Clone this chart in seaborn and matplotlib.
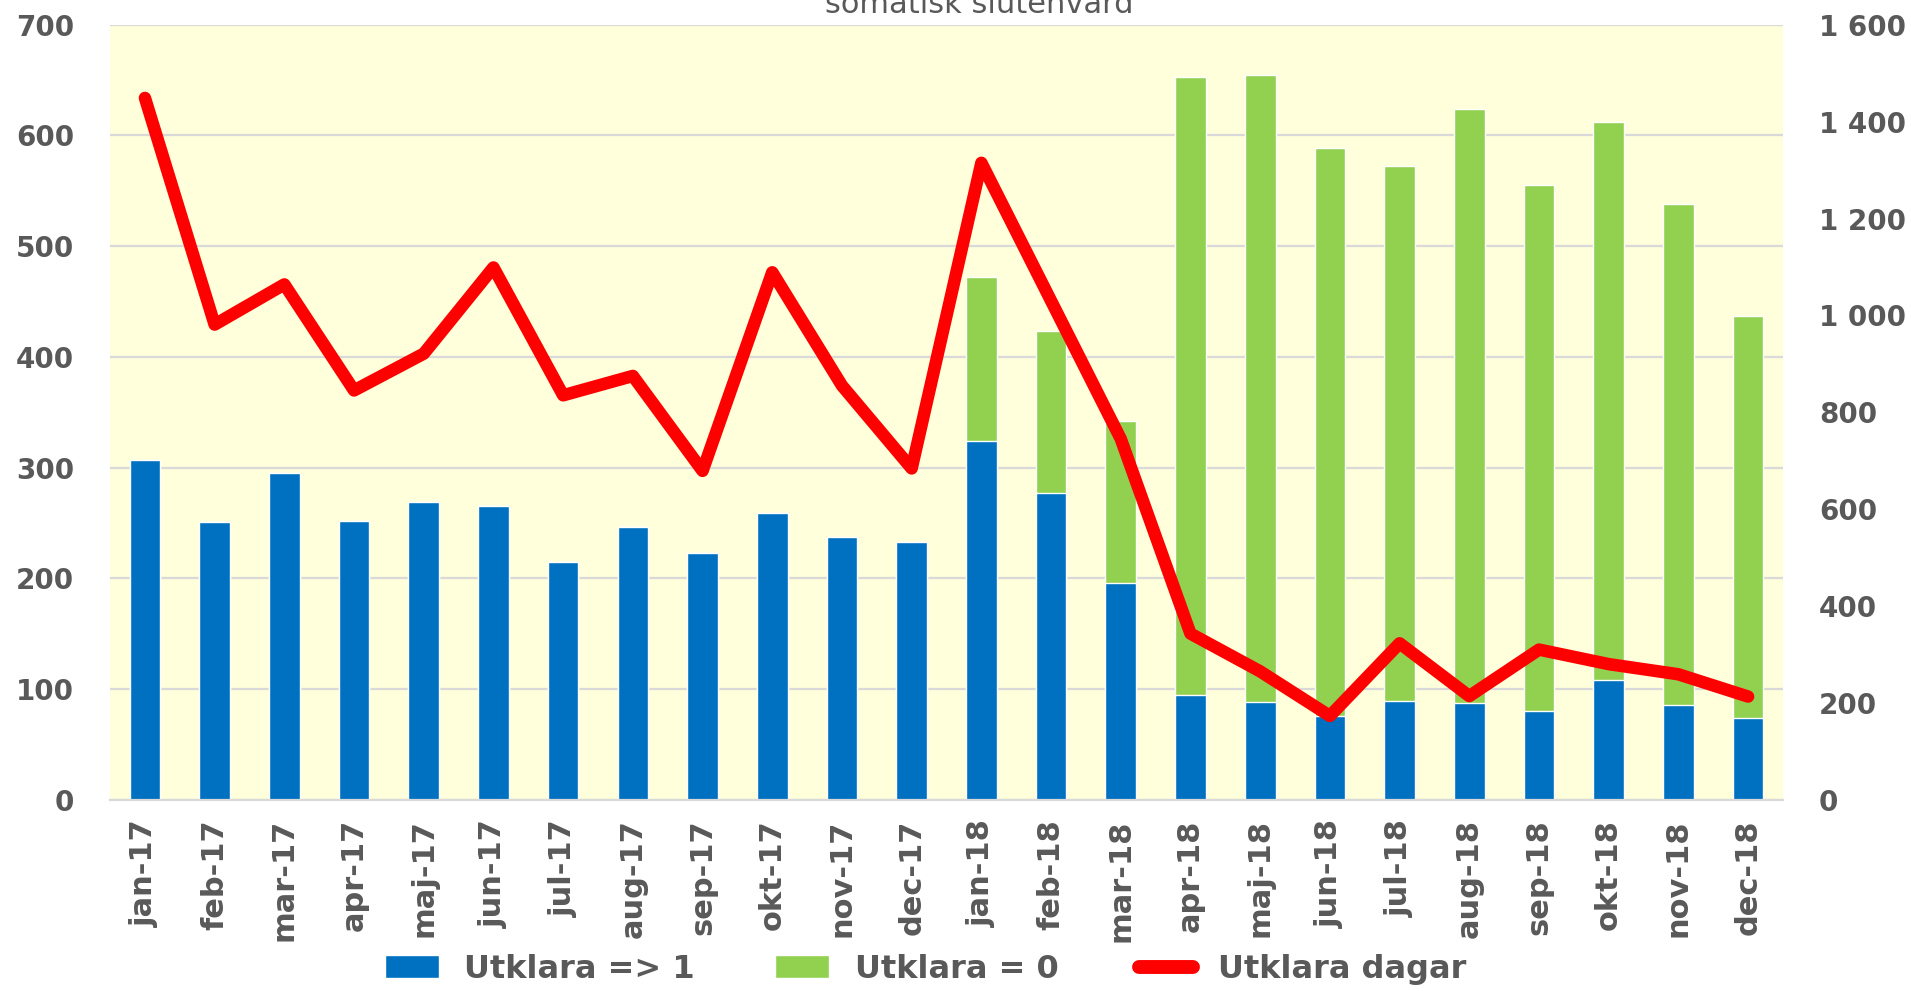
import numpy as np
import pandas as pd
import matplotlib
matplotlib.use("Agg")
import matplotlib.pyplot as plt
import seaborn as sns
from matplotlib.ticker import FixedLocator, FuncFormatter
from matplotlib.lines import Line2D
from matplotlib.patches import Patch

months = ["jan-17", "feb-17", "mar-17", "apr-17", "maj-17", "jun-17",
          "jul-17", "aug-17", "sep-17", "okt-17", "nov-17", "dec-17",
          "jan-18", "feb-18", "mar-18", "apr-18", "maj-18", "jun-18",
          "jul-18", "aug-18", "sep-18", "okt-18", "nov-18", "dec-18"]
utklara_1 = [307, 251, 295, 252, 269, 265, 215, 246, 223, 259, 237, 233,
             324, 277, 196, 95, 88, 76, 89, 87, 80, 108, 86, 74]
utklara_0 = [0, 0, 0, 0, 0, 0, 0, 0, 0, 0, 0, 0,
             148, 146, 146, 558, 567, 513, 483, 537, 475, 504, 452, 363]
utklara_dagar = [1449, 981, 1064, 845, 921, 1099, 835, 875, 679, 1089, 855, 684,
                 1315, 1030, 745, 343, 265, 173, 323, 214, 310, 280, 259, 213]
title = "somatisk slutenvård"

blue = "#0070C0"
green = "#92D050"
red = "#FF0000"
grey_txt = "#595959"
grid_c = "#D9D9D9"

df = pd.DataFrame({"month": months, "u1": utklara_1, "u0": utklara_0, "dagar": utklara_dagar})
df["total"] = df["u1"] + df["u0"]

sns.set_style("white")
plt.rcParams["font.family"] = ["DejaVu Sans"]
narrow = ["DejaVu Sans Condensed", "DejaVu Sans"]

fig = plt.figure(figsize=(19.11, 9.91), dpi=100)
ax = fig.add_axes([0.0576, 0.193, 0.8754, 0.782])
ax.set_facecolor("#FFFFDC")

# green = total height, blue drawn over it -> stacked look
sns.barplot(data=df, x="month", y="total", color=green, saturation=1, width=0.44, ax=ax)
sns.barplot(data=df, x="month", y="u1", color=blue, saturation=1, width=0.44, ax=ax)

ax.set_ylim(0, 700)
ax.set_xlim(-0.5, len(months) - 0.5)
ax.set_yticks(np.arange(0, 701, 100))
ax.yaxis.grid(True, color=grid_c, lw=1.6)
ax.set_axisbelow(True)
for s in ["top", "left", "right"]:
    ax.spines[s].set_visible(False)
ax.spines["bottom"].set_color(grid_c)
ax.spines["bottom"].set_linewidth(1.6)
ax.set_xlabel("")
ax.set_ylabel("")
ax.tick_params(axis="y", length=0, pad=26, labelsize=20, labelcolor=grey_txt)
for t in ax.get_yticklabels():
    t.set_fontweight("bold")
ax.tick_params(axis="x", which="major", length=0, pad=14)
ax.set_xticks(range(len(months)))
ax.set_xticklabels(months, rotation=90, fontsize=22, fontweight="bold",
                   color=grey_txt, family=narrow)
ax.xaxis.set_minor_locator(FixedLocator(np.arange(-0.5, len(months), 1)))
ax.tick_params(axis="x", which="minor", length=12, width=1.6, color=grid_c)

ax2 = ax.twinx()
sns.lineplot(x=np.arange(len(months)), y=df["dagar"], color=red, lw=9,
             ax=ax2, sort=False, solid_capstyle="round", solid_joinstyle="round")
ax2.set_ylim(0, 1600)
ax2.set_ylabel("")
ax2.yaxis.set_major_locator(FixedLocator(np.arange(0, 1601, 200)))
ax2.yaxis.set_major_formatter(FuncFormatter(lambda v, p: f"{int(v):,}".replace(",", " ")))
ax2.tick_params(axis="y", length=0, pad=26, labelsize=20, labelcolor=grey_txt)
for t in ax2.get_yticklabels():
    t.set_fontweight("bold")
for s in ax2.spines.values():
    s.set_visible(False)

# title sits partly above the top edge, as in the source image
fig.text(0.5123, 0.987, title, ha="center", va="baseline", fontsize=22,
         color=grey_txt, family=narrow)

handles = [Patch(facecolor=blue), Patch(facecolor=green),
           Line2D([0], [0], color=red, lw=10, solid_capstyle="round")]
labels = ["Utklara => 1", "Utklara = 0", "Utklara dagar"]
leg = fig.legend(handles, labels, loc="center", bbox_to_anchor=(0.4844, 0.022), ncol=3,
                 frameon=False, handlelength=1.7, handleheight=0.7, columnspacing=2.5,
                 handletextpad=0.8, prop={"family": narrow, "size": 23, "weight": "bold"})
for t in leg.get_texts():
    t.set_color(grey_txt)

fig.savefig("out.png", dpi=100)
